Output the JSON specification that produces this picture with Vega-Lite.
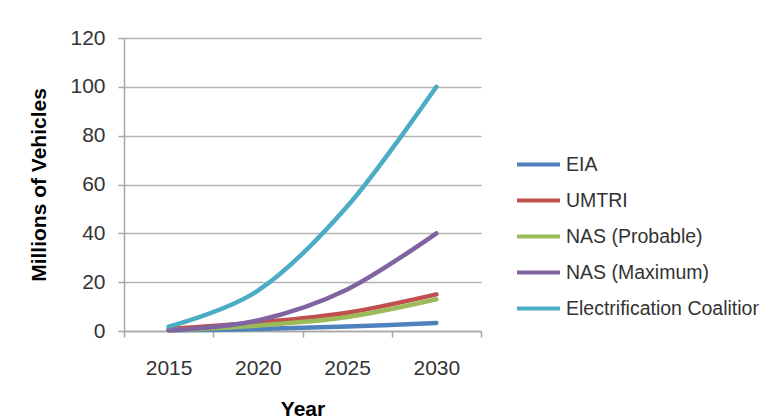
{
  "$schema": "https://vega.github.io/schema/vega-lite/v6.json",
  "autosize": "none",
  "width": 357,
  "height": 293,
  "padding": {"left": 124, "top": 38, "right": 278, "bottom": 89},
  "background": "white",
  "config": {
    "font": "Liberation Sans",
    "view": {"stroke": null}
  },
  "data": {
    "values": [
      {"year": "2015", "series": "EIA", "value": 0.3},
      {"year": "2020", "series": "EIA", "value": 0.8},
      {"year": "2025", "series": "EIA", "value": 1.8},
      {"year": "2030", "series": "EIA", "value": 3.3},
      {"year": "2015", "series": "UMTRI", "value": 0.8},
      {"year": "2020", "series": "UMTRI", "value": 3.5},
      {"year": "2025", "series": "UMTRI", "value": 7.5},
      {"year": "2030", "series": "UMTRI", "value": 15},
      {"year": "2015", "series": "NAS (Probable)", "value": 0.2},
      {"year": "2020", "series": "NAS (Probable)", "value": 2.2},
      {"year": "2025", "series": "NAS (Probable)", "value": 5.7},
      {"year": "2030", "series": "NAS (Probable)", "value": 13},
      {"year": "2015", "series": "NAS (Maximum)", "value": 0.3},
      {"year": "2020", "series": "NAS (Maximum)", "value": 4.3},
      {"year": "2025", "series": "NAS (Maximum)", "value": 17},
      {"year": "2030", "series": "NAS (Maximum)", "value": 40},
      {"year": "2015", "series": "Electrification Coalition", "value": 1.8},
      {"year": "2020", "series": "Electrification Coalition", "value": 16.5},
      {"year": "2025", "series": "Electrification Coalition", "value": 51},
      {"year": "2030", "series": "Electrification Coalition", "value": 100}
    ]
  },
  "mark": {"type": "line", "interpolate": "cardinal", "strokeWidth": 4.5, "strokeCap": "round"},
  "encoding": {
    "x": {
      "field": "year",
      "type": "ordinal",
      "scale": {"paddingInner": 0, "paddingOuter": 0},
      "axis": {
        "title": "Year",
        "labelAngle": 0,
        "tickBand": "extent",
        "labelFontSize": 21,
        "labelColor": "#333333",
        "labelPadding": 20,
        "tickSize": 6,
        "tickColor": "#a6a6a6",
        "tickWidth": 1.5,
        "domainColor": "#a6a6a6",
        "domainWidth": 1.5,
        "titleFontSize": 21,
        "titleFontWeight": "bold",
        "titleColor": "#000000",
        "titlePadding": 20,
        "grid": false
      }
    },
    "y": {
      "field": "value",
      "type": "quantitative",
      "scale": {"domain": [0, 120], "nice": false},
      "axis": {
        "title": "Millions of Vehicles",
        "values": [0, 20, 40, 60, 80, 100, 120],
        "labelFontSize": 21,
        "labelColor": "#333333",
        "labelPadding": 13,
        "tickSize": 6,
        "tickColor": "#a6a6a6",
        "tickWidth": 1.5,
        "domainColor": "#a6a6a6",
        "domainWidth": 1.5,
        "gridColor": "#b3b3b3",
        "gridWidth": 1.5,
        "titleFontSize": 21,
        "titleFontWeight": "bold",
        "titleColor": "#000000",
        "titlePadding": 20
      }
    },
    "color": {
      "field": "series",
      "type": "nominal",
      "scale": {
        "domain": ["EIA", "UMTRI", "NAS (Probable)", "NAS (Maximum)", "Electrification Coalition"],
        "range": ["#4F81BD", "#C0504D", "#9BBB59", "#8064A2", "#4BACC6"]
      },
      "legend": {
        "title": null,
        "orient": "none",
        "legendX": 391,
        "legendY": 103,
        "symbolType": "stroke",
        "symbolSize": 1849,
        "symbolStrokeWidth": 4,
        "labelFontSize": 19.5,
        "labelColor": "#333333",
        "labelOffset": 4,
        "rowPadding": 3,
        "padding": 0,
        "labelLimit": 400
      }
    }
  }
}
